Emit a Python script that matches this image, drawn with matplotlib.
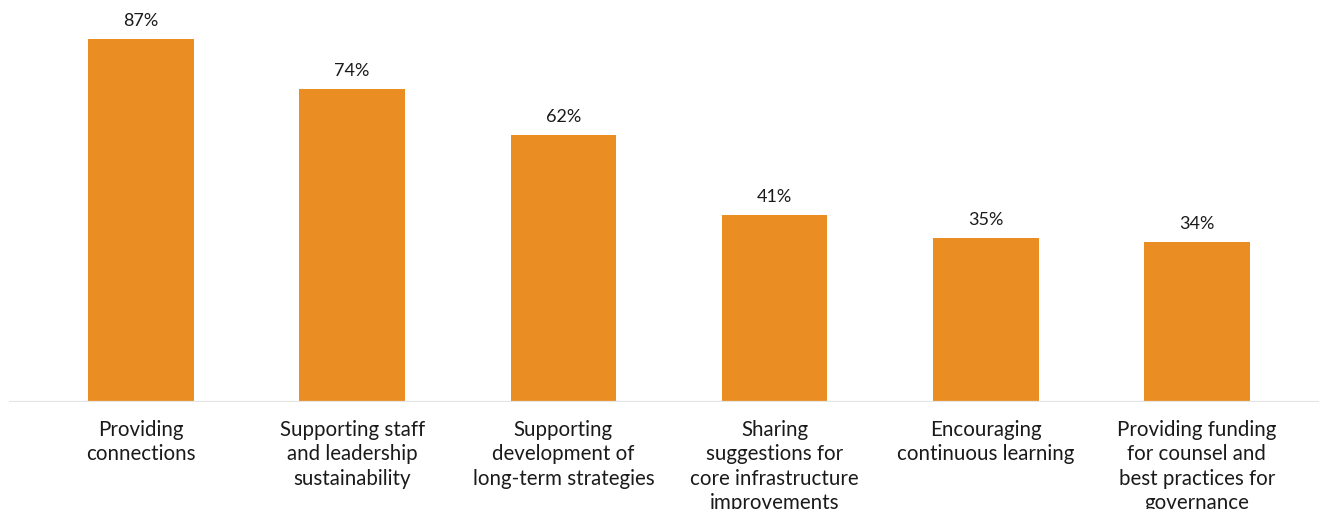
import matplotlib.pyplot as plt
import matplotlib.transforms as mtransforms

categories = [
    "Providing\nconnections",
    "Supporting staff\nand leadership\nsustainability",
    "Supporting\ndevelopment of\nlong-term strategies",
    "Sharing\nsuggestions for\ncore infrastructure\nimprovements",
    "Encouraging\ncontinuous learning",
    "Providing funding\nfor counsel and\nbest practices for\ngovernance",
]
values = [87, 74, 62, 41, 35, 34]
value_labels = ["87%", "74%", "62%", "41%", "35%", "34%"]

bar_color = "#EA8E24"
axis_floor = -7.75  # value axis doesn't start at zero in the original

plt.rcParams["font.family"] = ["Lato", "DejaVu Sans"]

fig = plt.figure(figsize=(13.19, 5.10), dpi=100)
ax = fig.add_axes([9 / 1319, (510 - 402.5) / 510, 1310 / 1319, 402.5 / 510])

x = list(range(len(values)))
heights = [v - axis_floor for v in values]
bars = ax.bar(x, heights, bottom=axis_floor, width=0.5, color=bar_color, zorder=2)

for xi, v, lab in zip(x, values, value_labels):
    ax.annotate(lab, (xi, v), xytext=(0, 8), textcoords="offset points",
                ha="center", va="bottom", fontsize=13, color="#1a1a1a")

ax.set_xlim(-0.625, 5.578)
ax.set_ylim(axis_floor, 97.45)
ax.axhline(axis_floor, color="#e4e4e4", lw=1.6, zorder=3)

trans = mtransforms.blended_transform_factory(ax.transData, ax.transAxes)
for xi, cat in zip(x, categories):
    ax.annotate(cat, (xi, 0), xycoords=trans, xytext=(0, -12.5), textcoords="offset points",
                ha="center", va="top", fontsize=14.8, color="#1a1a1a",
                linespacing=1.27, annotation_clip=False)

ax.set_xticks([])
ax.set_yticks([])
for s in ax.spines.values():
    s.set_visible(False)

fig.savefig("out.png", dpi=100)
